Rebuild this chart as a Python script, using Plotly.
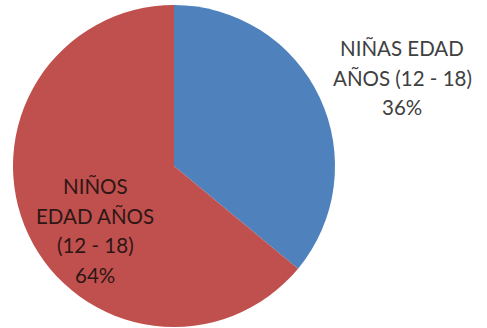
import plotly.graph_objects as go

# Share of students aged 12-18 by sex
labels = ["NIÑAS EDAD\nAÑOS (12 - 18)", "NIÑOS\nEDAD AÑOS\n(12 - 18)"]
values = [36, 64]
colors = ["#4F81BD", "#C0504D"]

W, H = 487, 328
cx, cy, r = 174, 166, 161

fig = go.Figure(
    go.Pie(
        labels=[l.replace("\n", " ") for l in labels],
        values=values,
        sort=False,
        direction="clockwise",
        rotation=0,
        marker=dict(colors=colors, line=dict(width=0)),
        textinfo="none",
        hoverinfo="label+percent",
        domain=dict(x=[(cx - r) / W, (cx + r) / W], y=[(H - cy - r) / H, (H - cy + r) / H]),
        showlegend=False,
    )
)

total = sum(values)
# label anchor points (pixels) and text colour for each slice
label_pos = [(402, 48, "#404040"), (95, 186, "#2e1616")]
line_gap = 29.5
for (lab, v), (x, y, col) in zip(zip(labels, values), label_pos):
    lines = lab.split("\n") + [f"{round(100 * v / total)}%"]
    for i, t in enumerate(lines):
        fig.add_annotation(
            x=x / W, y=1 - (y + i * line_gap) / H, xref="paper", yref="paper",
            text=t, showarrow=False, xanchor="center", yanchor="middle",
            font=dict(family="Lato, Open Sans, sans-serif", size=20.5, color=col),
        )

fig.update_layout(
    width=W, height=H,
    margin=dict(l=0, r=0, t=0, b=0),
    paper_bgcolor="white", plot_bgcolor="white",
)

fig.write_html("out.html")
